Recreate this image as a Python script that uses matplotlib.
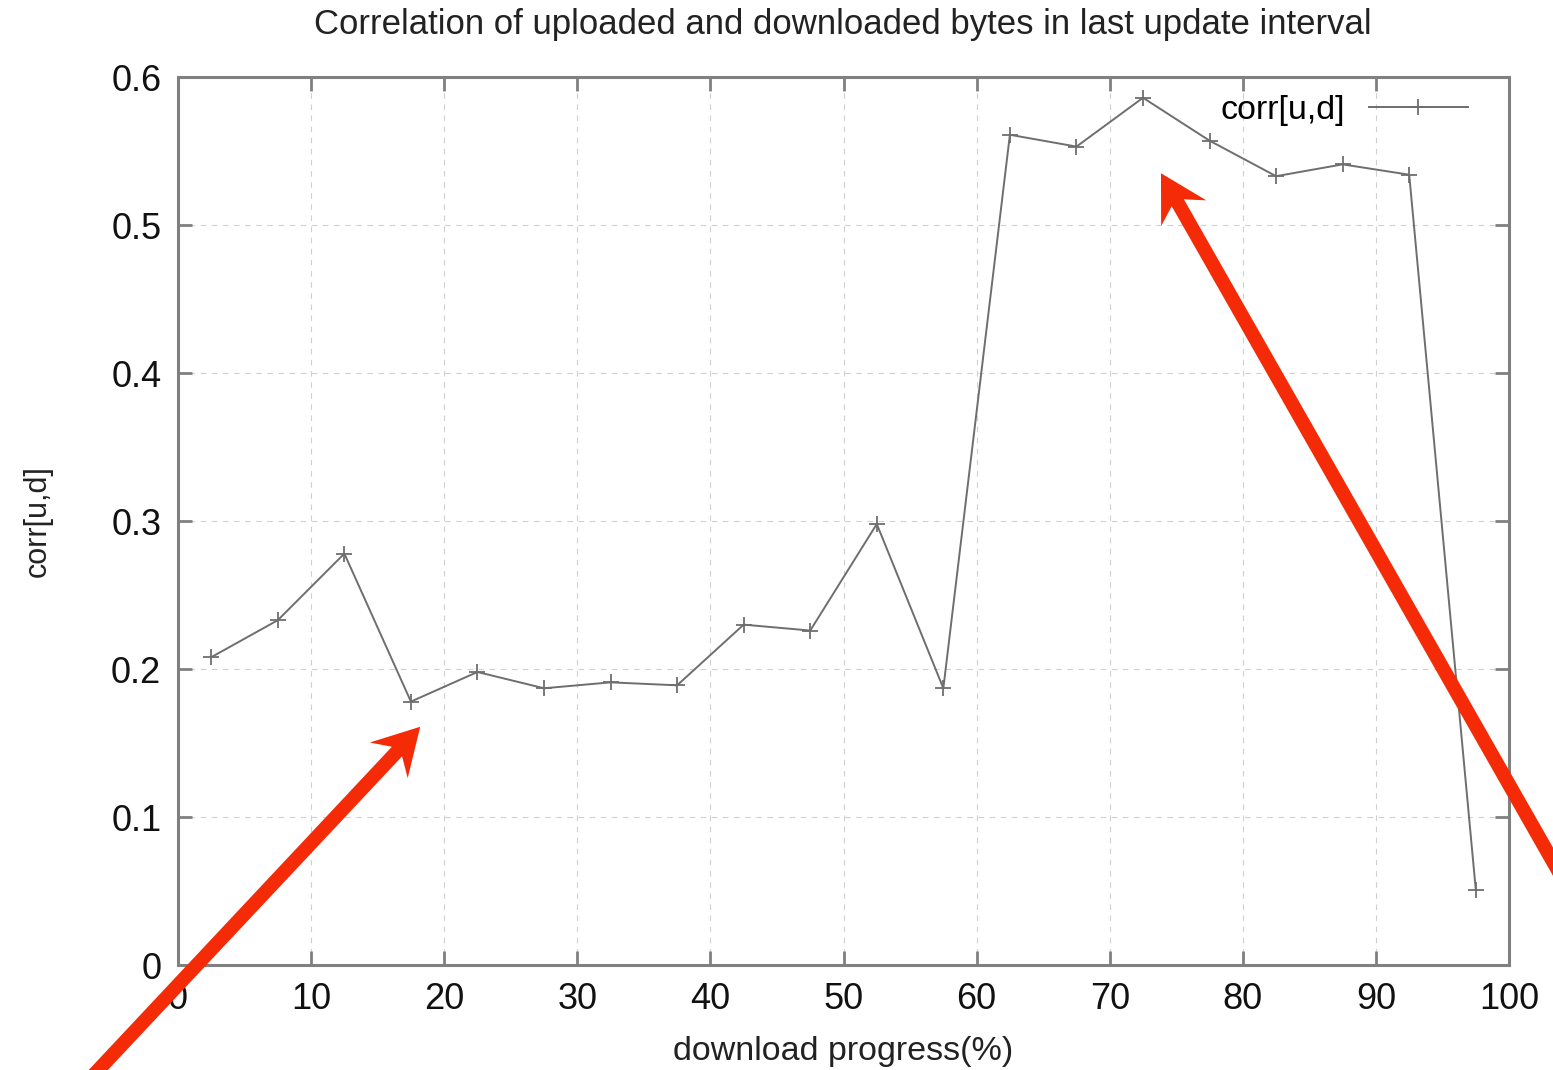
import matplotlib.pyplot as plt
import numpy as np
from matplotlib.patches import Polygon

# download progress bins (%) and correlation values
progress = [2.5, 7.5, 12.5, 17.5, 22.5, 27.5, 32.5, 37.5, 42.5, 47.5,
            52.5, 57.5, 62.5, 67.5, 72.5, 77.5, 82.5, 87.5, 92.5, 97.5]
corr_ud = [0.208, 0.233, 0.278, 0.178, 0.198, 0.187, 0.191, 0.189, 0.230, 0.226,
           0.298, 0.187, 0.561, 0.553, 0.586, 0.557, 0.533, 0.541, 0.534, 0.051]

x_ticks = list(range(0, 101, 10))
y_ticks = [0, 0.1, 0.2, 0.3, 0.4, 0.5, 0.6]
y_tick_labels = ['0', '0.1', '0.2', '0.3', '0.4', '0.5', '0.6']


def barbed_arrow(ax, tail, tip, shaft=14, head_len=46, head_half=26, notch=12,
                 color='#f52a07'):
    """Arrow with swept-back head, built in display pixels from data endpoints"""
    p0 = ax.transData.transform(tail)
    p1 = ax.transData.transform(tip)
    u = (p1 - p0) / np.hypot(*(p1 - p0))
    n = np.array([-u[1], u[0]])
    joint = p1 - u * (head_len - notch)
    pts = [p1,
           p1 - u * head_len + n * head_half,
           joint + n * shaft / 2,
           p0 + n * shaft / 2,
           p0 - n * shaft / 2,
           joint - n * shaft / 2,
           p1 - u * head_len - n * head_half]
    ax.add_artist(Polygon(pts, closed=True, transform=None, facecolor=color,
                          edgecolor='none', clip_on=False, zorder=5))


plt.rcParams['font.family'] = ['Liberation Sans', 'DejaVu Sans']

fig = plt.figure(figsize=(15.53, 10.70), dpi=100)
ax = fig.add_axes([0.1146, 0.0981, 0.8571, 0.8299])

frame_col = '#808080'
line_col = '#6e6e6e'

ax.plot(progress, corr_ud, color=line_col, linewidth=1.4, marker='+',
        markersize=12, markeredgewidth=1.3, label='corr[u,d]')

ax.set_xlim(0, 100)
ax.set_ylim(0, 0.6)
ax.set_xticks(x_ticks)
ax.set_yticks(y_ticks)
ax.set_yticklabels(y_tick_labels)

ax.grid(True, color='#d0d0d0', linestyle=(0, (5, 5)), linewidth=0.8)
ax.tick_params(direction='in', length=10, width=2, color=frame_col,
               top=True, right=True, labelsize=26, pad=12, labelcolor='#111111')
for sp in ax.spines.values():
    sp.set_color(frame_col)
    sp.set_linewidth(2.2)

fig.text(0.543, 0.977, 'Correlation of uploaded and downloaded bytes in last update interval',
         fontsize=25, color='#222222', ha='center', va='center')
ax.set_xlabel('download progress(%)', fontsize=24.5, color='#222222', labelpad=14)
ax.set_ylabel('corr[u,d]', fontsize=22, color='#222222', labelpad=42)

ax.legend(loc='upper right', bbox_to_anchor=(0.969, 0.98), frameon=False,
          markerfirst=False, fontsize=24.5, handlelength=2.9, borderpad=0,
          borderaxespad=0, handletextpad=0.7)

# red call-out arrows
barbed_arrow(ax, (-8.5, -0.095), (18.2, 0.161))
barbed_arrow(ax, (105.0, 0.043), (73.85, 0.535))

fig.savefig('out.png', dpi=100)
